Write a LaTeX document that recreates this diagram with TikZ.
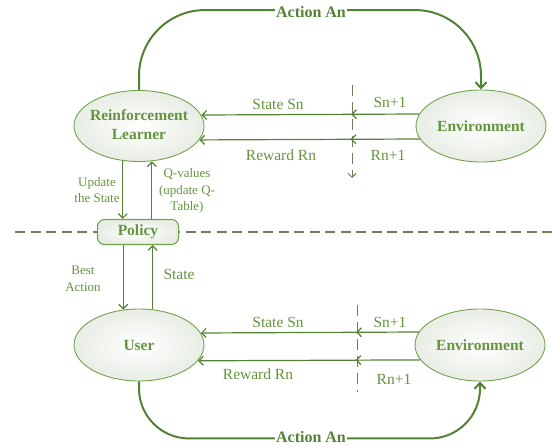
\documentclass[tikz,border=0pt]{standalone}
\usepackage{fontspec}
\setmainfont{Liberation Serif}
\usetikzlibrary{arrows.meta,decorations.markings,shapes.geometric}

\definecolor{lineg}{RGB}{84,130,53}
\definecolor{textg}{RGB}{100,148,62}
\definecolor{edgeg}{RGB}{112,165,75}
\definecolor{dashg}{RGB}{108,128,92}
\definecolor{shadeg}{RGB}{232,237,229}

\begin{document}
\begin{tikzpicture}[x=1pt,y=-1pt,
  every node/.style={text=textg},
  state/.style={ellipse, draw=edgeg, line width=0.9pt, inner sep=0pt,
    minimum width=130pt, minimum height=71pt, inner color=white, outer color=shadeg,
    font=\fontsize{15.5}{19.5}\selectfont\bfseries},
  policybox/.style={rectangle, rounded corners=7pt, draw=edgeg, line width=1.1pt,
    minimum width=81pt, minimum height=25pt, inner sep=0pt,
    inner color=white, outer color=shadeg,
    font=\fontsize{15.5}{19.5}\selectfont\bfseries},
  lbl/.style={font=\fontsize{15.5}{19}\selectfont, inner sep=1pt},
  small/.style={font=\fontsize{13}{16.5}\selectfont, align=center, inner sep=1pt},
  actlbl/.style={font=\fontsize{16}{19}\selectfont\bfseries, text=lineg, fill=white,
    inner xsep=1.5pt, inner ysep=1pt},
  tip/.style={-{Straight Barb[length=4.5pt,width=9pt]}},
  arr/.style={draw=lineg, line width=1.2pt, tip},
  midarr/.style={postaction=decorate, decoration={markings,
    mark=at position #1 with {\arrow{Straight Barb[length=4.5pt,width=9pt]}}}},
  act/.style={draw=lineg, line width=2pt, -{Straight Barb[length=6pt,width=11pt]}},
  cut/.style={draw=dashg, line width=1pt, dash pattern=on 11pt off 6pt},
  sep/.style={draw=dashg, line width=2pt, dash pattern=on 10pt off 5.5pt},
]
\useasboundingbox (0,0) rectangle (552,447);

% free ends of the dashed cut lines
\coordinate (sepL) at (15,232);
\coordinate (sepR) at (552,232);
\coordinate (cutAtop) at (352,85);
\coordinate (cutAbot) at (352,178);
\coordinate (cutBtop) at (357,305);
\coordinate (cutBbot) at (357,392);

% separator between the two layers
\draw[sep] (sepL) -- (sepR);

% nodes
\node[state] (rl) at (139,126)
  {\makebox[0pt]{\begin{tabular}{@{}c@{}}Reinforcement\\Learner\end{tabular}}};
\node[state, minimum height=72pt] (env1) at (481,126) {\makebox[0pt]{Environment}};
\node[state, minimum height=72pt] (user) at (139,345) {User};
\node[state, minimum height=72pt] (env2) at (480,345) {\makebox[0pt]{Environment}};
\node[policybox] (policy) at (138,232) {Policy};

% cut lines
\draw[cut, -{Straight Barb[length=4pt,width=8pt]}] (cutAtop) -- (cutAbot);
\draw[cut] (cutBtop) -- (cutBbot);

% upper loop: environment feedback
\draw[arr, midarr=68.1pt] (env1.169.78) -- (rl.10.09);
\draw[arr, midarr=69.3pt] (env1.192.29) -- (rl.347.87);
\node[lbl] (tS) at (278,104) {State Sn};
\node[lbl] (tR) at (281,155) {Reward Rn};
\node[lbl] (tS1) at (390,102) {Sn+1};
\node[lbl] (tR1) at (388,155) {Rn+1};

% lower loop: environment feedback
\draw[arr, midarr=62.7pt] (env2.168.75) -- (user.11.07);
\draw[arr, midarr=64.8pt] (env2.194.44) -- (user.345.77);
\node[lbl] (bS) at (278,322) {State Sn};
\node[lbl] (bR) at (258,374) {Reward Rn};
\node[lbl] (bS1) at (390,322) {Sn+1};
\node[lbl] (bR1) at (394,379) {Rn+1};

% learner <-> policy
\draw[arr] (rl.245.06) -- (rl.245.06 |- policy.north);
\draw[arr] (rl.290.5 |- policy.north) -- (rl.290.5);
\node[small] (upd) at (97,190) {Update\\the State};
\node[small] (qv) at (187,191) {Q-values\\(update Q-\\Table)};

% policy <-> user
\draw[arr] (policy.south -| user.114.6) -- (user.114.6);
\draw[arr] (user.69.8) -- (user.69.8 |- policy.south);
\node[small] (best) at (83,279) {Best\\Action};
\node[lbl] (ust) at (179,274) {State};

% actions
\draw[act, rounded corners=66pt] (rl.north) -- ++(0,-80) -| (env1.north);
\node[actlbl] (actTop) at (311,12) {Action An};
\draw[act, rounded corners=50pt] (user.south) -- ++(0,57) -| (env2.south);
\node[actlbl] (actBot) at (311,437.5) {Action An};
\end{tikzpicture}
\end{document}
